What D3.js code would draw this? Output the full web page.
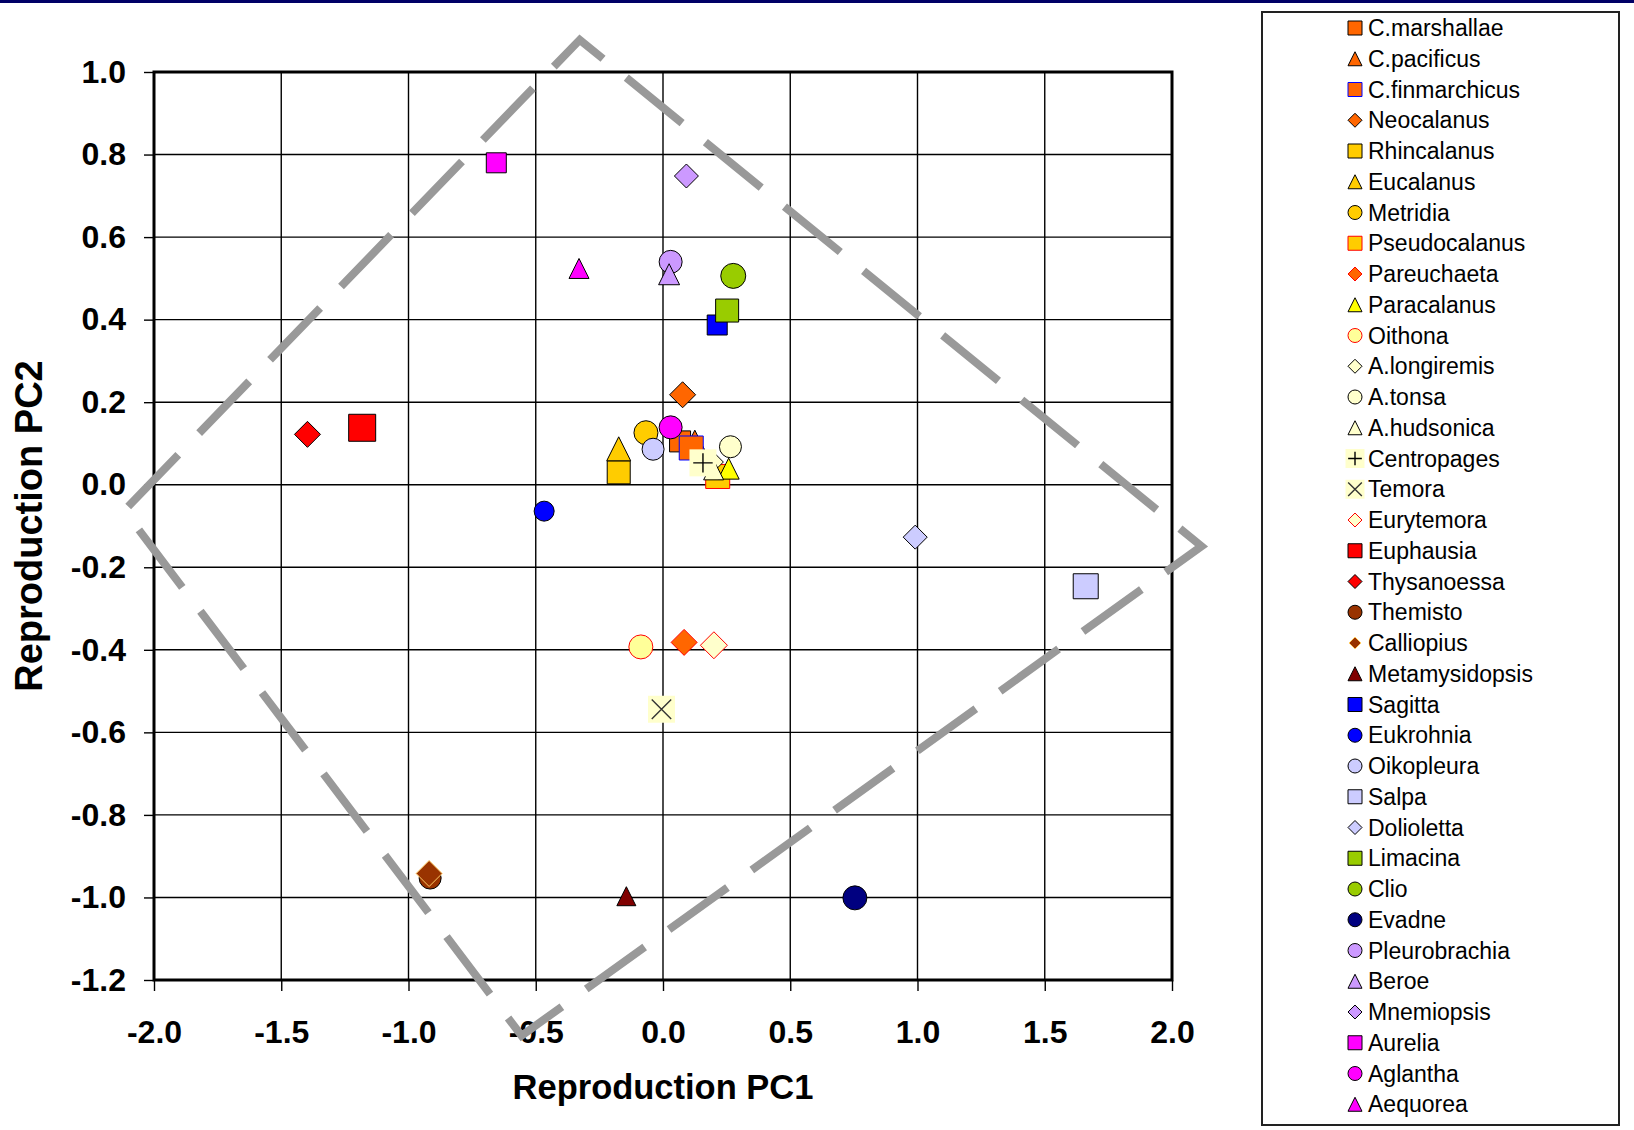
<!DOCTYPE html>
<html>
<head>
<meta charset="utf-8">
<script src="https://cdn.jsdelivr.net/npm/d3@7"></script>
<style>
  body { margin: 0; background: #fff; }
  svg { display: block; }
</style>
</head>
<body>
<svg id="chart" width="1634" height="1130"></svg>
<script>
// species in legend order (= drawing order)
const species = [
  "C.marshallae", "C.pacificus", "C.finmarchicus", "Neocalanus", "Rhincalanus",
  "Eucalanus", "Metridia", "Pseudocalanus", "Pareuchaeta", "Paracalanus",
  "Oithona", "A.longiremis", "A.tonsa", "A.hudsonica", "Centropages",
  "Temora", "Eurytemora", "Euphausia", "Thysanoessa", "Themisto",
  "Calliopius", "Metamysidopsis", "Sagitta", "Eukrohnia", "Oikopleura",
  "Salpa", "Dolioletta", "Limacina", "Clio", "Evadne",
  "Pleurobrachia", "Beroe", "Mnemiopsis", "Aurelia", "Aglantha", "Aequorea"
];
const pc1 = [
  0.067, 0.125, 0.111, 0.077, -0.174,
  -0.174, -0.067, 0.215, 0.083, 0.258,
  -0.087, 0.19, 0.265, 0.199, 0.157,
  -0.006, 0.200, -1.182, -1.397, -0.915,
  -0.919, -0.144, 0.213, -0.467, -0.039,
  1.661, 0.991, 0.252, 0.276, 0.754,
  0.030, 0.024, 0.092, -0.655, 0.030, -0.330
];
const pc2 = [
  0.105, 0.108, 0.089, 0.218, 0.030,
  0.087, 0.126, 0.020, -0.382, 0.039,
  -0.393, 0.055, 0.092, 0.036, 0.053,
  -0.544, -0.389, 0.138, 0.122, -0.953,
  -0.942, -0.997, 0.387, -0.064, 0.086,
  -0.246, -0.127, 0.422, 0.506, -1.001,
  0.540, 0.510, 0.748, 0.780, 0.139, 0.524
];
const xTicks = [-2.0, -1.5, -1.0, -0.5, 0.0, 0.5, 1.0, 1.5, 2.0];
const yTicks = [-1.2, -1.0, -0.8, -0.6, -0.4, -0.2, 0.0, 0.2, 0.4, 0.6, 0.8, 1.0];
// dashed outline drawn over the plot (corners in PC units: top, right, bottom, left)
const frameX = [-0.327, 2.116, -0.556, -2.117];
const frameY = [1.078, -0.149, -1.335, -0.0625];

// marker looks: shape, fill, outline, size in px
const markerStyle = {
  "C.marshallae":   { shape: "square",   fill: "#FF6600", stroke: "#000", size: 21 },
  "C.pacificus":    { shape: "triangle", fill: "#FF6600", stroke: "#000", size: 20 },
  "C.finmarchicus": { shape: "square",   fill: "#FF6600", stroke: "#0000FF", size: 24 },
  "Neocalanus":     { shape: "diamond",  fill: "#FF6600", stroke: "#000", size: 26 },
  "Rhincalanus":    { shape: "square",   fill: "#FFCC00", stroke: "#000", size: 23 },
  "Eucalanus":      { shape: "triangle", fill: "#FFCC00", stroke: "#000", size: 24 },
  "Metridia":       { shape: "circle",   fill: "#FFCC00", stroke: "#000", size: 24 },
  "Pseudocalanus":  { shape: "square",   fill: "#FFCC00", stroke: "#FF0000", size: 24 },
  "Pareuchaeta":    { shape: "diamond",  fill: "#FF6600", stroke: "#FF0000", size: 26 },
  "Paracalanus":    { shape: "triangle", fill: "#FFFF00", stroke: "#000", size: 21 },
  "Oithona":        { shape: "circle",   fill: "#FFFF99", stroke: "#FF0000", size: 24 },
  "A.longiremis":   { shape: "diamond",  fill: "#FFFFCC", stroke: "#000", size: 24 },
  "A.tonsa":        { shape: "circle",   fill: "#FFFFCC", stroke: "#000", size: 22 },
  "A.hudsonica":    { shape: "triangle", fill: "#FFFFCC", stroke: "#000", size: 20 },
  "Centropages":    { shape: "plus",     fill: "#FFFFCC", stroke: "#000", size: 27 },
  "Temora":         { shape: "cross",    fill: "#FFFFCC", stroke: "#333", size: 27 },
  "Eurytemora":     { shape: "diamond",  fill: "#FFFFCC", stroke: "#FF0000", size: 27 },
  "Euphausia":      { shape: "square",   fill: "#FF0000", stroke: "#000", size: 27 },
  "Thysanoessa":    { shape: "diamond",  fill: "#FF0000", stroke: "#000", size: 26 },
  "Themisto":       { shape: "circle",   fill: "#993300", stroke: "#000", size: 22 },
  "Calliopius":     { shape: "diamond",  fill: "#993300", stroke: "#FFCC66", size: 26, legendSize: 12 },
  "Metamysidopsis": { shape: "triangle", fill: "#800000", stroke: "#000", size: 19 },
  "Sagitta":        { shape: "square",   fill: "#0000FF", stroke: "#000", size: 20 },
  "Eukrohnia":      { shape: "circle",   fill: "#0000FF", stroke: "#000", size: 20 },
  "Oikopleura":     { shape: "circle",   fill: "#CCCCFF", stroke: "#000", size: 22 },
  "Salpa":          { shape: "square",   fill: "#CCCCFF", stroke: "#000", size: 25 },
  "Dolioletta":     { shape: "diamond",  fill: "#CCCCFF", stroke: "#000", size: 24 },
  "Limacina":       { shape: "square",   fill: "#99CC00", stroke: "#000", size: 23 },
  "Clio":           { shape: "circle",   fill: "#99CC00", stroke: "#000", size: 25 },
  "Evadne":         { shape: "circle",   fill: "#000080", stroke: "#000", size: 24 },
  "Pleurobrachia":  { shape: "circle",   fill: "#CC99FF", stroke: "#000", size: 23 },
  "Beroe":          { shape: "triangle", fill: "#CC99FF", stroke: "#000", size: 21 },
  "Mnemiopsis":     { shape: "diamond",  fill: "#CC99FF", stroke: "#000", size: 24 },
  "Aurelia":        { shape: "square",   fill: "#FF00FF", stroke: "#000", size: 20 },
  "Aglantha":       { shape: "circle",   fill: "#FF00FF", stroke: "#000", size: 23 },
  "Aequorea":       { shape: "triangle", fill: "#FF00FF", stroke: "#000", size: 20 }
};

const data = species.map((name, i) => ({ name, x: pc1[i], y: pc2[i], ...markerStyle[name] }));

const font = "'Liberation Sans', Arial, sans-serif";
const margin = { top: 72, left: 154 };
const width = 1018, height = 908;

const x = d3.scaleLinear().domain([-2, 2]).range([margin.left, margin.left + width]);
const y = d3.scaleLinear().domain([-1.2, 1.0]).range([margin.top + height, margin.top]);

const svg = d3.select("#chart");

// navy rule along the top
svg.append("rect").attr("x", 0).attr("y", 0).attr("width", 1634).attr("height", 3).attr("fill", "#000066");

// grid
svg.append("g").selectAll("line").data(xTicks).join("line")
  .attr("x1", d => x(d)).attr("x2", d => x(d))
  .attr("y1", margin.top).attr("y2", margin.top + height)
  .attr("stroke", "#000").attr("stroke-width", 1.4);
svg.append("g").selectAll("line").data(yTicks).join("line")
  .attr("x1", margin.left).attr("x2", margin.left + width)
  .attr("y1", d => y(d)).attr("y2", d => y(d))
  .attr("stroke", "#000").attr("stroke-width", 1.4);

// axes
const fmt = d => d.toFixed(1);
const xAxisGroup = svg.append("g")
  .attr("transform", `translate(0,${margin.top + height})`)
  .call(d3.axisBottom(x).tickValues(xTicks).tickFormat(fmt).tickSize(11).tickPadding(29));
const yAxisGroup = svg.append("g")
  .attr("transform", `translate(${margin.left},0)`)
  .call(d3.axisLeft(y).tickValues(yTicks).tickFormat(fmt).tickSize(10).tickPadding(18));
[xAxisGroup, yAxisGroup].forEach(g => {
  g.select(".domain").remove();
  g.selectAll("line").attr("stroke", "#000").attr("stroke-width", 1.4);
  g.selectAll("text")
    .attr("fill", "#000")
    .attr("font-family", font)
    .attr("font-weight", "bold")
    .attr("font-size", 32);
});

// plot frame
svg.append("rect")
  .attr("x", margin.left).attr("y", margin.top)
  .attr("width", width).attr("height", height)
  .attr("fill", "none").attr("stroke", "#000").attr("stroke-width", 3);

// axis titles
svg.append("text")
  .attr("x", x(0)).attr("y", 1099)
  .attr("text-anchor", "middle")
  .attr("font-family", font).attr("font-weight", "bold").attr("font-size", 34.5)
  .text("Reproduction PC1");
svg.append("text")
  .attr("transform", `translate(42,${y(-0.1)}) rotate(-90)`)
  .attr("text-anchor", "middle")
  .attr("font-family", font).attr("font-weight", "bold").attr("font-size", 38)
  .text("Reproduction PC2");

function markerPath(shape, s) {
  const h = s / 2;
  switch (shape) {
    case "square": return `M${-h},${-h}H${h}V${h}H${-h}Z`;
    case "diamond": return `M0,${-h}L${h},0L0,${h}L${-h},0Z`;
    case "triangle": return `M0,${-h}L${h},${h}L${-h},${h}Z`;
    case "circle": return `M${h},0A${h},${h} 0 1,1 ${-h},0A${h},${h} 0 1,1 ${h},0Z`;
    default: return `M${-h},${-h}H${h}V${h}H${-h}Z`;
  }
}

function drawMarker(g, d, s) {
  if (d.shape === "plus" || d.shape === "cross") {
    g.append("path").attr("d", markerPath("square", s)).attr("fill", d.fill);
    const a = s * 0.36;
    const p = d.shape === "plus"
      ? `M${-a},0H${a}M0,${-a}V${a}`
      : `M${-a},${-a}L${a},${a}M${a},${-a}L${-a},${a}`;
    g.append("path").attr("d", p).attr("stroke", d.stroke).attr("stroke-width", 1.4).attr("fill", "none");
  } else {
    g.append("path").attr("d", markerPath(d.shape, s))
      .attr("fill", d.fill).attr("stroke", d.stroke).attr("stroke-width", 1);
  }
}

// points
svg.append("g").selectAll("g").data(data).join("g")
  .attr("transform", d => `translate(${x(d.x)},${y(d.y)})`)
  .each(function (d) { drawMarker(d3.select(this), d, d.size); });

// dashed outline
const frameLine = d3.line().x(i => x(frameX[i])).y(i => y(frameY[i]));
svg.append("path")
  .attr("d", frameLine(d3.range(frameX.length)) + "Z")
  .attr("fill", "none")
  .attr("stroke", "#999999")
  .attr("stroke-width", 8)
  .attr("stroke-dasharray", "72,30")
  .attr("stroke-dashoffset", 42)
  .attr("stroke-linejoin", "miter");

// legend
const legend = svg.append("g");
legend.append("rect")
  .attr("x", 1262).attr("y", 12).attr("width", 357).attr("height", 1113)
  .attr("fill", "#fff").attr("stroke", "#222").attr("stroke-width", 2);
const rowY = i => 28 + i * 30.75;
const items = legend.selectAll("g.item").data(data).join("g")
  .attr("class", "item")
  .attr("transform", (d, i) => `translate(1355,${rowY(i)})`);
items.each(function (d) {
  const s = d.shape === "plus" || d.shape === "cross" ? 19 : (d.legendSize || 14);
  drawMarker(d3.select(this), d, s);
});
items.append("text")
  .attr("x", 13).attr("dy", "0.35em")
  .attr("font-family", font).attr("font-size", 23)
  .attr("fill", "#000")
  .text(d => d.name);
</script>
</body>
</html>
